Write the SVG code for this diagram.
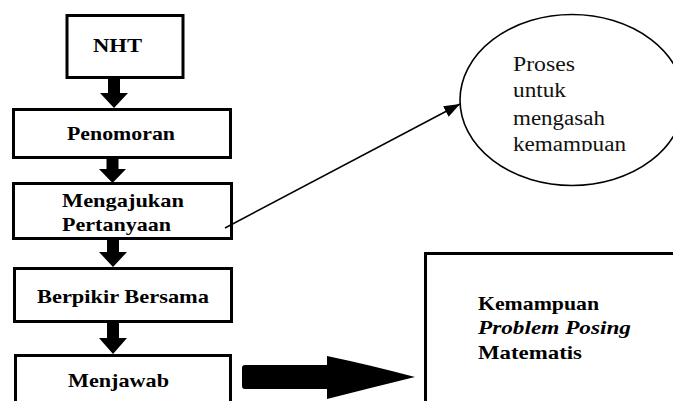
<svg xmlns="http://www.w3.org/2000/svg" width="673" height="401" viewBox="0 0 673 401">
<style>
.box{fill:#fff;stroke:#000;stroke-width:3}
.bt{font-weight:bold;font-size:19px;fill:#000}
.et{font-size:20px;fill:#111}
.dn{fill:#000}
</style>
<defs>
<marker id="ah" markerUnits="userSpaceOnUse" markerWidth="18" markerHeight="14" refX="16" refY="6" orient="auto">
<path d="M0,0 L16,6 L0,12 Z" fill="#000"/>
</marker>
<clipPath id="ec"><rect x="500" y="40" width="173" height="111"/></clipPath>
</defs>
<rect width="673" height="401" fill="#fff"/>
<g font-family="Liberation Serif, DejaVu Serif, serif">
<g id="nht"><rect class="box" x="67" y="15.5" width="116" height="62"/><text class="bt" x="93" y="52" font-size="22" textLength="49" lengthAdjust="spacingAndGlyphs">NHT</text></g>
<g id="penomoran"><rect class="box" x="13.5" y="109.5" width="217" height="48"/><text class="bt" x="67" y="140" textLength="108" lengthAdjust="spacingAndGlyphs">Penomoran</text></g>
<g id="mengajukan"><rect class="box" x="13.5" y="183.5" width="218" height="55"/><text class="bt" x="62" y="207" textLength="122" lengthAdjust="spacingAndGlyphs">Mengajukan</text><text class="bt" x="62" y="231" textLength="109" lengthAdjust="spacingAndGlyphs">Pertanyaan</text></g>
<g id="berpikir"><rect class="box" x="14.5" y="268.5" width="217" height="53"/><text class="bt" x="37" y="303" textLength="172" lengthAdjust="spacingAndGlyphs">Berpikir Bersama</text></g>
<g id="menjawab"><rect class="box" x="15.5" y="355.5" width="215" height="60"/><text class="bt" x="68" y="387" textLength="101" lengthAdjust="spacingAndGlyphs">Menjawab</text></g>
<g id="proses"><ellipse cx="572" cy="100" rx="112" ry="85.5" fill="#fff" stroke="#000" stroke-width="1.6"/>
<g clip-path="url(#ec)"><text class="et" x="513" y="71" textLength="62" lengthAdjust="spacingAndGlyphs">Proses</text><text class="et" x="513" y="97" textLength="53" lengthAdjust="spacingAndGlyphs">untuk</text><text class="et" x="513" y="125" textLength="92" lengthAdjust="spacingAndGlyphs">mengasah</text><text class="et" x="513" y="151" textLength="113" lengthAdjust="spacingAndGlyphs">kemampuan</text></g></g>
<g id="kemampuan"><rect class="box" x="425.5" y="253.5" width="262" height="160"/><text class="bt" x="478" y="310" textLength="121" lengthAdjust="spacingAndGlyphs">Kemampuan</text><text class="bt" x="478" y="334" font-style="italic" textLength="153" lengthAdjust="spacingAndGlyphs">Problem Posing</text><text class="bt" x="478" y="359" textLength="104" lengthAdjust="spacingAndGlyphs">Matematis</text></g>
</g>
<g id="connectors">
<path class="dn" d="M108,79 H120 V93 H128 L114,108 L100,93 H108 Z"/>
<path class="dn" d="M106.5,159 H118.5 V169 H126 L112.5,183 L99,169 H106.5 Z"/>
<path class="dn" d="M107,240 H119 V252 H127 L113,267 L99,252 H107 Z"/>
<path class="dn" d="M107,323 H119 V338 H127 L113,354 L99,338 H107 Z"/>
<line x1="225" y1="228" x2="460" y2="104" stroke="#000" stroke-width="1.5" marker-end="url(#ah)"/>
<path class="dn" d="M245,365 H327 V356 Q370,365 415,377 Q370,388 327,399 V389 H245 Q242,389 242,386 V368 Q242,365 245,365 Z"/>
</g>
</svg>
